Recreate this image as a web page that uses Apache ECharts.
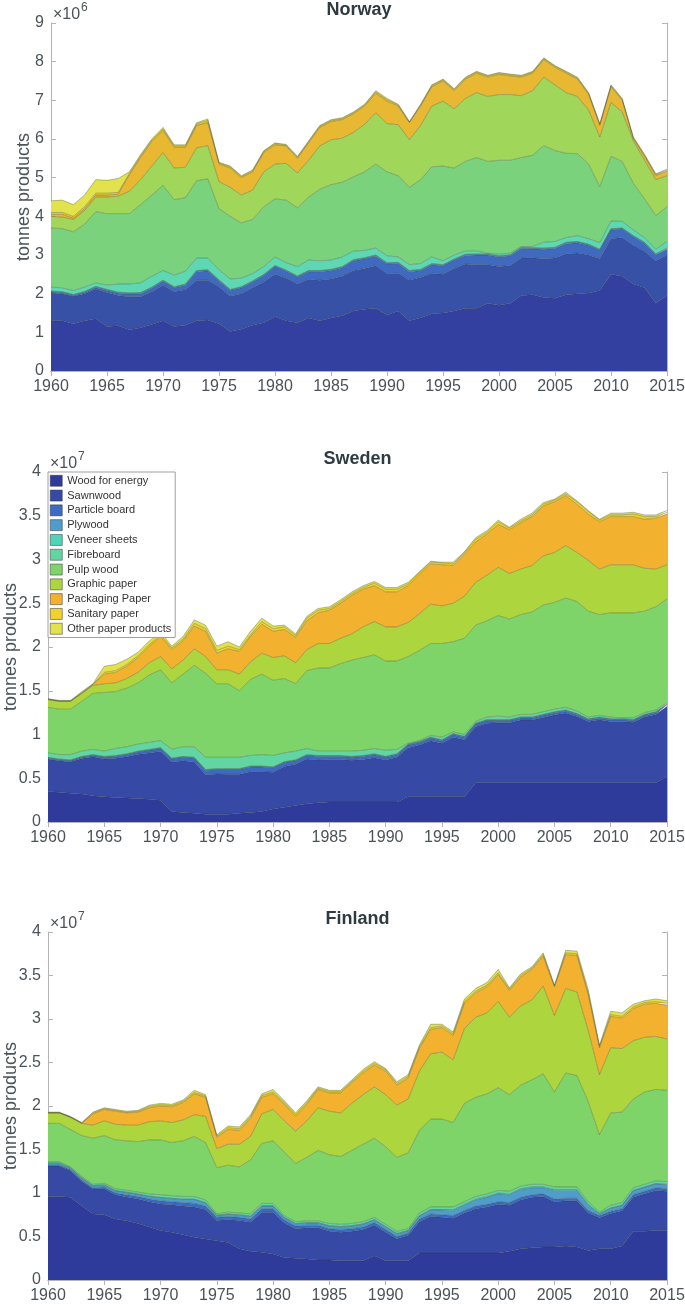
<!DOCTYPE html>
<html>
<head>
<meta charset="utf-8">
<script src="https://cdn.jsdelivr.net/npm/echarts@6/dist/echarts.min.js"></script>
<style>
  html, body { margin: 0; padding: 0; background: #fff; }
  #chart { width: 685px; height: 1304px; }
</style>
</head>
<body>
<div id="chart"></div>
<script>
// values in million tonnes
const years = []
for (let y = 1960; y <= 2015; y++) years.push(String(y))

const NAMES = ['Wood for energy', 'Sawnwood', 'Particle board', 'Plywood', 'Veneer sheets', 'Fibreboard',
  'Pulp wood', 'Graphic paper', 'Packaging Paper', 'Sanitary paper', 'Other paper products']

// Norway
const noEnergy = [1.30,1.30,1.22,1.30,1.35,1.15,1.17,1.07,1.12,1.20, 1.30,1.15,1.18,1.30,1.32,1.22,1.02,1.08,1.18,1.25, 1.40,1.30,1.25,1.37,1.30,1.37,1.43,1.55,1.60,1.62, 1.45,1.55,1.30,1.38,1.48,1.50,1.55,1.62,1.62,1.75, 1.70,1.75,1.95,1.97,1.90,1.88,1.97,2.00,2.02,2.08, 2.50,2.45,2.25,2.15,1.75,1.95]
const noSawn = [0.72,0.70,0.71,0.70,0.77,0.88,0.78,0.85,0.80,0.85, 0.92,0.90,0.92,1.05,1.03,0.96,0.91,0.92,0.97,1.05, 1.10,1.10,1.00,1.00,1.05,1.01,1.02,1.05,1.05,1.10, 1.07,0.98,1.05,1.04,1.05,1.00,1.10,1.15,1.13,1.00, 1.00,0.98,0.97,0.96,1.00,1.04,1.06,1.05,0.98,0.82, 0.92,1.00,1.00,0.95,1.10,1.05]
const noParticle = [0.02,0.02,0.02,0.03,0.04,0.05,0.06,0.07,0.08,0.09, 0.10,0.10,0.12,0.22,0.24,0.15,0.15,0.15,0.15,0.17, 0.20,0.18,0.18,0.20,0.22,0.22,0.22,0.25,0.25,0.25, 0.25,0.25,0.22,0.18,0.22,0.22,0.22,0.22,0.25,0.25, 0.25,0.25,0.25,0.23,0.25,0.25,0.27,0.27,0.25,0.22, 0.23,0.22,0.22,0.20,0.15,0.15]
const noPlywood = [0.02,0.02,0.02,0.02,0.02,0.02,0.02,0.02,0.02,0.02, 0.02,0.02,0.02,0.02,0.02,0.02,0.02,0.02,0.02,0.02, 0.02,0.02,0.02,0.02,0.02,0.02,0.02,0.02,0.02,0.02, 0.02,0.02,0.02,0.02,0.02,0.02,0.02,0.02,0.02,0.02, 0.02,0.02,0.02,0.02,0.02,0.02,0.02,0.02,0.02,0.02, 0.02,0.02,0.02,0.02,0.02,0.02]
const noVeneer = [0.01,0.01,0.01,0.01,0.01,0.01,0.01,0.01,0.01,0.01, 0.01,0.01,0.01,0.01,0.01,0.01,0.01,0.01,0.01,0.01, 0.01,0.01,0.01,0.01,0.01,0.01,0.01,0.01,0.01,0.01, 0.01,0.01,0.01,0.01,0.01,0.01,0.01,0.01,0.01,0.01, 0.01,0.01,0.01,0.01,0.01,0.01,0.01,0.01,0.01,0.01, 0.01,0.01,0.01,0.01,0.01,0.01]
const noFibre = [0.10,0.10,0.10,0.11,0.09,0.11,0.21,0.23,0.25,0.28, 0.25,0.30,0.33,0.32,0.30,0.26,0.27,0.22,0.19,0.20, 0.22,0.19,0.24,0.27,0.25,0.24,0.25,0.22,0.19,0.18, 0.18,0.14,0.15,0.15,0.17,0.10,0.10,0.08,0.07,0.02, 0.04,0.04,0.02,0.03,0.15,0.15,0.12,0.15,0.14,0.17, 0.20,0.17,0.15,0.12,0.12,0.17]
const noPulp = [1.53,1.53,1.52,1.63,1.84,1.85,1.82,1.82,2.02,2.10, 2.20,1.95,1.90,2.00,2.05,1.58,1.62,1.43,1.40,1.55, 1.50,1.62,1.52,1.63,1.85,1.95,1.93,1.92,2.03,2.17, 2.17,2.10,2.00,2.17,2.33,2.45,2.25,2.32,2.42,2.37, 2.43,2.40,2.30,2.36,2.50,2.35,2.18,2.12,1.93,1.45, 1.67,1.55,1.20,1.00,0.87,0.90]
const noGraphic = [0.30,0.30,0.32,0.35,0.38,0.43,0.45,0.58,0.65,0.75, 0.85,0.82,0.79,0.85,0.86,0.70,0.75,0.72,0.76,0.90, 0.90,0.95,0.90,0.95,1.12,1.16,1.14,1.15,1.23,1.33, 1.25,1.32,1.23,1.40,1.57,1.68,1.53,1.63,1.68,1.68, 1.70,1.70,1.60,1.67,1.77,1.70,1.57,1.48,1.40,1.28, 1.40,1.28,1.10,1.00,0.93,0.80]
const noPackaging = [0.05,0.07,0.03,0.05,0.05,0.05,0.05,0.43,0.57,0.63, 0.57,0.53,0.51,0.58,0.59,0.45,0.50,0.45,0.47,0.50, 0.50,0.45,0.38,0.45,0.48,0.47,0.48,0.48,0.47,0.50, 0.58,0.48,0.44,0.50,0.50,0.52,0.47,0.50,0.50,0.50, 0.52,0.48,0.48,0.45,0.45,0.45,0.50,0.45,0.40,0.30, 0.40,0.30,0.05,0.10,0.10,0.12]
const noSanitary = [0.05,0.05,0.05,0.05,0.05,0.05,0.05,0.03,0.04,0.04, 0.04,0.04,0.04,0.04,0.06,0.03,0.03,0.03,0.03,0.03, 0.03,0.02,0.03,0.03,0.03,0.03,0.03,0.03,0.03,0.04, 0.04,0.03,0.02,0.03,0.03,0.03,0.03,0.03,0.03,0.03, 0.03,0.03,0.03,0.03,0.03,0.03,0.03,0.03,0.03,0.03, 0.03,0.03,0.03,0.03,0.03,0.03]
const noOther = [0.30,0.32,0.30,0.30,0.35,0.33,0.36,0.04,0.04,0.03, 0.04,0.03,0.03,0.03,0.04,0.02,0.02,0.02,0.02,0.02, 0.02,0.02,0.02,0.02,0.02,0.02,0.02,0.02,0.02,0.03, 0.03,0.02,0.01,0.02,0.02,0.02,0.02,0.02,0.02,0.02, 0.02,0.02,0.02,0.02,0.02,0.02,0.02,0.02,0.02,0.02, 0.02,0.02,0.02,0.02,0.02,0.02]

// Sweden
const seEnergy = [3.5,3.4,3.3,3.2,3.0,2.9,2.8,2.75,2.7,2.6, 2.5,1.2,1.1,1.0,0.9,0.9,0.9,1.0,1.1,1.2, 1.5,1.7,1.9,2.1,2.2,2.3,2.3,2.3,2.3,2.3, 2.3,2.3,2.9,2.9,2.9,2.9,2.9,2.9,4.5,4.5, 4.5,4.5,4.5,4.5,4.5,4.5,4.5,4.5,4.5,4.5, 4.5,4.5,4.5,4.5,4.5,5.2]
const seSawn = [3.7,3.6,3.6,4.05,4.45,4.3,4.5,4.7,5.05,5.3, 5.6,5.65,5.9,5.85,4.5,4.6,4.55,4.45,4.65,4.55, 4.2,4.65,4.7,5.1,4.9,4.85,4.85,4.75,4.85,5.05, 4.8,5.1,5.6,5.9,6.4,6.1,6.8,6.5,6.4,6.8, 6.85,6.85,7.15,7.15,7.45,7.75,7.95,7.55,7.0,7.2, 7.0,7.0,6.9,7.5,7.8,8.0]
const seParticle = [0.1,0.1,0.1,0.15,0.15,0.2,0.2,0.25,0.25,0.3, 0.3,0.35,0.4,0.45,0.5,0.5,0.55,0.55,0.55,0.55, 0.5,0.45,0.4,0.4,0.4,0.35,0.35,0.35,0.35,0.35, 0.3,0.3,0.3,0.3,0.3,0.3,0.3,0.3,0.3,0.3, 0.25,0.25,0.25,0.25,0.25,0.25,0.25,0.25,0.2,0.2, 0.2,0.2,0.2,0.2,0.2,0.2]
const sePlywood = [0.05,0.05,0.05,0.05,0.05,0.05,0.05,0.05,0.05,0.05, 0.05,0.05,0.05,0.05,0.05,0.05,0.05,0.05,0.05,0.05, 0.05,0.05,0.05,0.05,0.05,0.05,0.05,0.05,0.05,0.05, 0.05,0.05,0.05,0.05,0.05,0.05,0.05,0.05,0.05,0.05, 0.05,0.05,0.05,0.05,0.05,0.05,0.05,0.05,0.05,0.05, 0.05,0.05,0.05,0.05,0.05,0.05]
const seVeneer = [0.05,0.05,0.05,0.05,0.05,0.05,0.05,0.05,0.05,0.05, 0.05,0.05,0.05,0.05,0.05,0.05,0.05,0.05,0.05,0.05, 0.05,0.05,0.05,0.05,0.05,0.05,0.05,0.05,0.05,0.05, 0.05,0.05,0.05,0.05,0.05,0.05,0.05,0.05,0.05,0.05, 0.05,0.05,0.05,0.05,0.05,0.05,0.05,0.05,0.05,0.05, 0.05,0.05,0.05,0.05,0.05,0.05]
const seFibre = [0.5,0.5,0.6,0.6,0.6,0.6,0.8,0.8,0.8,0.8, 0.8,1.0,1.1,1.2,1.4,1.3,1.3,1.3,1.2,1.3, 1.3,1.0,1.0,0.7,0.5,0.5,0.5,0.6,0.6,0.6, 0.7,0.5,0.1,0.1,0.2,0.3,0.2,0.2,0.2,0.3, 0.4,0.3,0.3,0.3,0.3,0.3,0.3,0.3,0.2,0.2, 0.2,0.1,0.2,0.2,0.2,0.1]
const sePulp = [5.2,5.2,5.2,5.7,6.4,6.7,6.5,6.7,7.0,7.7, 8.1,7.6,8.3,9.3,9.6,8.4,8.4,7.6,8.7,9.2, 8.6,8.5,7.7,8.9,9.5,9.5,10.0,10.4,10.6,10.7, 10.2,10.1,9.9,10.3,10.5,10.7,10.3,11.0,11.0,11.0, 11.5,11.2,11.4,11.7,12.2,12.2,12.5,12.5,12.1,11.5, 11.9,12.0,12.0,11.6,11.8,11.9]
const seGraphic = [0.9,0.9,0.9,0.9,0.9,1.0,1.0,1.1,1.2,1.4, 1.5,1.6,1.6,1.9,1.9,1.6,1.6,1.9,2.0,2.4, 2.6,2.6,2.4,2.4,2.8,2.8,2.9,3.0,3.5,3.8, 3.9,3.9,3.9,4.2,4.5,4.3,4.4,4.8,4.9,5.2, 5.5,5.2,5.2,5.3,5.6,5.7,6.0,5.6,5.8,5.2, 5.5,5.5,5.5,4.9,4.3,3.9]
const sePackaging = [0,0,0,0,0.1,1.1,1.2,1.4,1.7,1.9, 2.3,2.2,2.2,2.6,2.9,1.9,2.4,2.6,2.9,3.3, 3.0,3.0,2.9,3.3,3.5,3.8,4.0,4.4,4.3,4.1, 4.0,4.0,4.2,4.5,4.6,4.7,4.3,4.8,4.6,4.7, 4.9,5.0,5.3,5.6,5.7,5.8,5.7,5.5,5.3,5.4, 5.5,5.5,5.5,5.6,5.8,5.8]
const seSanitary = [0.05,0.05,0.05,0.1,0.05,0.2,0.2,0.2,0.2,0.2, 0.2,0.2,0.2,0.3,0.3,0.3,0.3,0.2,0.2,0.3, 0.3,0.3,0.2,0.3,0.3,0.2,0.2,0.2,0.2,0.3, 0.3,0.3,0.2,0.2,0.2,0.2,0.2,0.2,0.3,0.2, 0.3,0.2,0.2,0.2,0.2,0.2,0.2,0.3,0.3,0.2, 0.2,0.2,0.3,0.3,0.2,0.2]
const seOther = [0.05,0.05,0.05,0.1,0.05,0.7,0.7,0.6,0.4,0.4, 0.3,0.2,0.3,0.4,0.4,0.5,0.5,0.3,0.4,0.4, 0.3,0.2,0.2,0.2,0.2,0.2,0.2,0.2,0.2,0.2, 0.2,0.2,0.2,0.1,0.1,0.1,0.2,0.1,0.2,0.2, 0.2,0.1,0.2,0.2,0.2,0.1,0.2,0.1,0.1,0.1, 0.2,0.2,0.2,0.2,0.2,0.2]

// Finland
const fiEnergy = [9.6,9.6,9.5,8.5,7.6,7.5,7.0,6.8,6.5,6.1, 5.7,5.5,5.2,4.9,4.7,4.5,4.3,3.6,3.3,3.2, 3.0,2.6,2.5,2.4,2.3,2.3,2.2,2.2,2.2,2.8, 2.2,2.2,2.2,3.1,3.1,3.1,3.1,3.1,3.1,3.1, 3.1,3.3,3.6,3.7,3.8,3.8,3.9,3.8,3.4,3.6, 3.6,3.9,5.6,5.6,5.7,5.7]
const fiSawn = [3.5,3.5,3.1,2.85,2.85,3.0,2.8,2.75,2.8,2.9, 3.05,3.15,3.3,3.5,3.4,2.35,2.65,3.25,3.35,4.6, 4.8,3.95,3.4,3.6,3.7,3.3,3.3,3.4,3.6,3.5, 3.3,2.55,2.95,3.6,4.2,4.1,4.0,4.6,5.1,5.3, 5.6,5.3,5.6,5.8,5.8,5.2,5.2,5.3,4.3,3.55, 4.05,4.05,3.9,4.3,4.6,4.5]
const fiParticle = [0.1,0.1,0.1,0.15,0.15,0.2,0.2,0.25,0.3,0.3, 0.35,0.35,0.4,0.4,0.4,0.35,0.35,0.35,0.35,0.4, 0.4,0.35,0.3,0.3,0.3,0.3,0.3,0.3,0.3,0.3, 0.3,0.25,0.25,0.3,0.3,0.3,0.3,0.3,0.3,0.3, 0.3,0.3,0.3,0.3,0.3,0.3,0.3,0.3,0.3,0.25, 0.25,0.25,0.3,0.3,0.3,0.3]
const fiPlywood = [0.2,0.2,0.15,0.2,0.2,0.2,0.25,0.25,0.25,0.3, 0.35,0.35,0.35,0.45,0.35,0.2,0.25,0.25,0.3,0.3, 0.3,0.25,0.25,0.25,0.25,0.3,0.3,0.3,0.3,0.3, 0.3,0.3,0.25,0.35,0.45,0.55,0.6,0.6,0.7,0.8, 0.9,0.9,0.9,0.8,0.7,1.0,0.9,0.9,0.6,0.2, 0.35,0.35,0.45,0.45,0.45,0.45]
const fiVeneer = [0.05,0.05,0.05,0.05,0.05,0.05,0.05,0.05,0.05,0.05, 0.05,0.05,0.05,0.05,0.05,0.05,0.05,0.05,0.05,0.05, 0.05,0.05,0.05,0.05,0.05,0.05,0.05,0.05,0.05,0.05, 0.05,0.05,0.05,0.05,0.05,0.05,0.1,0.1,0.1,0.1, 0.1,0.1,0.1,0.1,0.1,0.1,0.1,0.1,0.1,0.05, 0.05,0.05,0.05,0.05,0.05,0.05]
const fiFibre = [0.15,0.15,0.1,0.15,0.15,0.15,0.2,0.2,0.2,0.25, 0.3,0.3,0.3,0.3,0.3,0.15,0.2,0.2,0.25,0.25, 0.25,0.2,0.2,0.2,0.2,0.25,0.25,0.25,0.25,0.25, 0.25,0.25,0.2,0.3,0.3,0.3,0.3,0.3,0.3,0.3, 0.3,0.3,0.3,0.3,0.3,0.3,0.3,0.3,0.3,0.15, 0.3,0.3,0.3,0.3,0.3,0.3]
const fiPulp = [4.4,4.4,4.3,4.7,5.3,5.5,5.6,5.7,5.8,6.2, 6.3,6.1,6.4,6.9,6.6,5.3,5.4,5.3,6.2,6.9, 7.2,7.3,6.7,7.3,8.1,7.9,7.8,8.4,8.9,9.1, 8.9,8.5,8.7,9.5,10.1,10.1,9.7,11.3,11.4,11.5, 11.8,11.1,11.6,12.0,12.7,10.9,13.1,12.8,11.5,8.9, 10.6,10.4,10.2,10.6,10.5,10.5]
const fiGraphic = [1.2,1.2,1.4,1.4,1.5,1.7,1.8,1.8,1.9,2.1, 2.2,2.3,2.4,2.5,3.0,2.2,2.4,2.6,2.7,3.4, 3.6,3.6,3.7,4.2,4.9,5.0,5.0,5.4,5.7,5.9, 6.0,6.0,6.2,6.8,7.5,7.7,7.2,8.6,9.2,9.3, 9.9,8.9,9.1,9.2,10.1,8.8,9.7,9.6,8.2,6.9, 7.5,7.3,6.7,6.3,6.1,5.9]
const fiPackaging = [0,0,0,0,1.3,1.3,1.5,1.4,1.5,1.6, 1.7,1.8,2.0,2.4,2.2,1.3,1.7,1.6,2.1,1.9, 1.8,1.9,1.7,1.9,2.1,2.1,2.3,2.4,2.5,2.5, 2.7,2.3,2.4,2.6,2.8,2.8,2.8,2.9,2.8,3.0, 3.1,3.1,3.3,3.5,3.4,3.3,3.9,4.2,4.1,3.1, 3.6,3.5,3.7,3.8,3.8,3.9]
const fiSanitary = [0.05,0.05,0.05,0.05,0.1,0.1,0.1,0.1,0.1,0.15, 0.15,0.15,0.15,0.15,0.15,0.15,0.2,0.2,0.2,0.2, 0.2,0.2,0.2,0.2,0.15,0.15,0.15,0.15,0.2,0.2, 0.2,0.2,0.2,0.2,0.2,0.2,0.2,0.2,0.2,0.2, 0.2,0.15,0.2,0.15,0.2,0.1,0.2,0.2,0.2,0.15, 0.2,0.2,0.2,0.2,0.2,0.2]
const fiOther = [0.05,0.05,0.05,0.05,0.1,0.1,0.1,0.1,0.1,0.15, 0.15,0.15,0.15,0.25,0.15,0.15,0.2,0.2,0.2,0.2, 0.3,0.2,0.2,0.2,0.15,0.15,0.15,0.15,0.2,0.2, 0.1,0.2,0.2,0.2,0.4,0.2,0.2,0.3,0.3,0.3, 0.4,0.15,0.2,0.15,0.2,0.1,0.3,0.3,0.4,0.15, 0.4,0.4,0.3,0.2,0.3,0.3]

const COLORS = ['#2f3b9b', '#3549a5', '#3b6bc2', '#4f9dcb', '#4fd3b9', '#62d6a2',
  '#7ed468', '#acd53e', '#f2b230', '#f0d22a', '#e2e34c']
const NO_COLORS = ['#33409f', '#3751a7', '#3f6ac0', '#4f9dcb', '#4fd3b9', '#5ed8b2',
  '#7ad27c', '#a0d65a', '#e8b832', '#e8c82a', '#e2e34c']

const FONT = '"Liberation Sans", Arial, sans-serif'
const TEXT = '#4b5358'
const BOX = '#b4b4b4'

const panels = [
  { title: 'Sweden', exp: '7', colors: COLORS, max: 40, step: 5, scale: 10, nameGap: 28,
    grid: { left: 48, top: 472, width: 619, height: 350 },
    data: [seEnergy, seSawn, seParticle, sePlywood, seVeneer, seFibre, sePulp, seGraphic, sePackaging, seSanitary, seOther] },
  { title: 'Norway', exp: '6', colors: NO_COLORS, max: 9, step: 1, scale: 1, nameGap: 18,
    grid: { left: 51, top: 23, width: 616, height: 348 },
    data: [noEnergy, noSawn, noParticle, noPlywood, noVeneer, noFibre, noPulp, noGraphic, noPackaging, noSanitary, noOther] },
  { title: 'Finland', exp: '7', colors: COLORS, max: 40, step: 5, scale: 10, nameGap: 28,
    grid: { left: 48, top: 932, width: 619, height: 348 },
    data: [fiEnergy, fiSawn, fiParticle, fiPlywood, fiVeneer, fiFibre, fiPulp, fiGraphic, fiPackaging, fiSanitary, fiOther] }
]

const grids = [], xAxes = [], yAxes = [], series = [], graphics = []
const n = panels.length

panels.forEach((p, i) => {
  grids.push(Object.assign({ containLabel: false, outerBoundsMode: 'none' }, p.grid))
  const cx = p.grid.left + p.grid.width / 2
  xAxes[i] = {
    type: 'category', gridIndex: i, data: years, boundaryGap: false,
    axisLine: { lineStyle: { color: BOX, width: 1 } },
    axisTick: { inside: true, length: 5, interval: 4, lineStyle: { color: BOX } },
    axisLabel: { interval: 4, margin: 8, color: TEXT, fontSize: 16, fontFamily: FONT },
    splitLine: { show: false }
  }
  xAxes[n + i] = {
    type: 'category', gridIndex: i, data: years, boundaryGap: false, position: 'top',
    axisLine: { lineStyle: { color: BOX, width: 1 } },
    axisTick: { inside: true, length: 5, interval: 4, lineStyle: { color: BOX } },
    axisLabel: { show: false }, splitLine: { show: false }
  }
  yAxes[i] = {
    type: 'value', gridIndex: i, min: 0, max: p.max, interval: p.step,
    name: 'tonnes products', nameLocation: 'middle', nameGap: p.nameGap, nameMoveOverlap: false,
    nameTextStyle: { color: TEXT, fontSize: 18, fontFamily: FONT },
    axisLine: { show: true, lineStyle: { color: BOX, width: 1 } },
    axisTick: { show: true, inside: true, length: 5, lineStyle: { color: BOX } },
    axisLabel: { margin: 7, color: TEXT, fontSize: 16, fontFamily: FONT, formatter: v => String(v / p.scale) },
    splitLine: { show: false }
  }
  yAxes[n + i] = {
    type: 'value', gridIndex: i, min: 0, max: p.max, interval: p.step, position: 'right',
    axisLine: { show: true, lineStyle: { color: BOX, width: 1 } },
    axisTick: { show: true, inside: true, length: 5, lineStyle: { color: BOX } },
    axisLabel: { show: false }, splitLine: { show: false }
  }

  p.data.forEach((vals, k) => {
    series.push({
      name: NAMES[k], type: 'line', stack: p.title, xAxisIndex: i, yAxisIndex: i,
      data: vals, symbol: 'none', silent: true,
      lineStyle: { width: 0.7, color: 'rgba(40,50,40,0.45)' },
      itemStyle: { color: p.colors[k] },
      areaStyle: { color: p.colors[k], opacity: 1 }
    })
  })

  const top = p.grid.top
  graphics.push(
    { type: 'text', x: cx, y: top - 12.5,
      style: { text: p.title, fill: '#2e3b42', font: 'bold 18px ' + FONT, align: 'center', verticalAlign: 'middle' } },
    { type: 'text', x: p.grid.left + 2, y: top - 8,
      style: { text: '×10', fill: TEXT, font: '16px ' + FONT, align: 'left', verticalAlign: 'middle' } },
    { type: 'text', x: p.grid.left + 30, y: top - 15,
      style: { text: p.exp, fill: TEXT, font: '12px ' + FONT, align: 'left', verticalAlign: 'middle' } }
  )
})

const chart = echarts.init(document.getElementById('chart'), null, { renderer: 'canvas' })
chart.setOption({
  animation: false,
  backgroundColor: '#fff',
  grid: grids,
  xAxis: xAxes,
  yAxis: yAxes,
  legend: {
    data: NAMES, orient: 'vertical', left: 48, top: 472, icon: 'rect',
    itemWidth: 12, itemHeight: 11, itemGap: 3.3, padding: [3, 4, 3, 2],
    backgroundColor: '#fff', borderColor: '#a0a0a0', borderWidth: 1, selectedMode: false,
    textStyle: { fontSize: 11, color: '#333', fontFamily: FONT },
    itemStyle: { borderColor: '#333', borderWidth: 0.5 }
  },
  series: series,
  graphic: graphics
})
</script>
</body>
</html>
